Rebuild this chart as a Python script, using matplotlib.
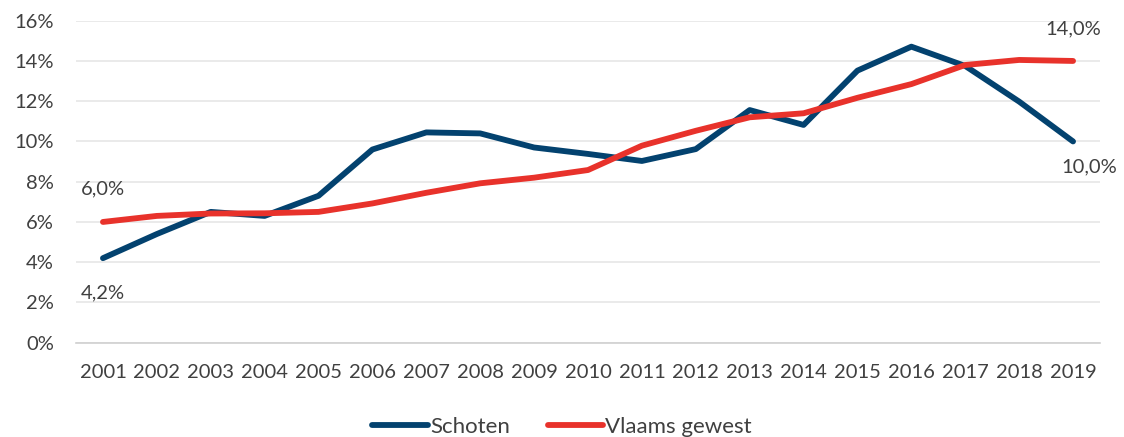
import matplotlib
matplotlib.use("Agg")
import matplotlib.pyplot as plt
from matplotlib.ticker import FuncFormatter

plt.rcParams['font.family'] = ['Lato', 'DejaVu Sans']

years = [str(y) for y in range(2001, 2020)]
schoten = [4.2, 5.4, 6.5, 6.3, 7.3, 9.6, 10.45, 10.4, 9.7, 9.38, 9.03, 9.62,
           11.56, 10.82, 13.52, 14.71, 13.75, 11.98, 10.0]
vlaams = [6.0, 6.3, 6.42, 6.43, 6.5, 6.92, 7.45, 7.92, 8.2, 8.58, 9.79, 10.53,
          11.2, 11.4, 12.17, 12.85, 13.8, 14.05, 14.0]
series_names = ["Schoten", "Vlaams gewest"]
yticks = [0, 2, 4, 6, 8, 10, 12, 14, 16]

BLUE = "#03426f"
RED = "#e8322b"
TXT = "#404040"
FS = 14.5

W, H = 1124, 437
fig = plt.figure(figsize=(W / 100, H / 100), dpi=100)
ax = fig.add_axes([76 / W, 1 - 342.7 / H, (1100 - 76) / W, (342.7 - 20.7) / H])

x = list(range(len(years)))
ax.plot(x, schoten, color=BLUE, lw=4.2, solid_capstyle='round', solid_joinstyle='round', label=series_names[0], zorder=3)
ax.plot(x, vlaams, color=RED, lw=4.2, solid_capstyle='round', solid_joinstyle='round', label=series_names[1], zorder=4)

ax.set_xlim(-0.5, len(years) - 0.5)
ax.set_ylim(0, 16)
ax.set_yticks(yticks)
ax.yaxis.set_major_formatter(FuncFormatter(lambda v, p: f"{int(v)}%"))
ax.set_xticks(x)
ax.set_xticklabels(years)

ax.grid(axis='y', color='#e6e6e6', lw=1.2)
ax.set_axisbelow(True)
for s in ['top', 'right', 'left']:
    ax.spines[s].set_visible(False)
ax.spines['bottom'].set_color('#d0d0d0')
ax.spines['bottom'].set_linewidth(1.2)
ax.tick_params(axis='both', length=0, labelsize=FS, colors=TXT)
ax.tick_params(axis='y', pad=16)
ax.tick_params(axis='x', pad=15)

def lab(v):
    return f"{v:.1f}%".replace('.', ',')

ax.annotate(lab(vlaams[0]), (x[0], vlaams[0]), xytext=(0, 33), textcoords='offset pixels',
            ha='center', va='center', fontsize=FS, color=TXT)
ax.annotate(lab(schoten[0]), (x[0], schoten[0]), xytext=(0, -35), textcoords='offset pixels',
            ha='center', va='center', fontsize=FS, color=TXT)
ax.annotate(lab(vlaams[-1]), (x[-1], vlaams[-1]), xytext=(0, 32), textcoords='offset pixels',
            ha='center', va='center', fontsize=FS, color=TXT)
ax.annotate(lab(schoten[-1]), (x[-1], schoten[-1]), xytext=(16, -25), textcoords='offset pixels',
            ha='center', va='center', fontsize=FS, color=TXT, annotation_clip=False)

leg = fig.legend(loc='center', bbox_to_anchor=(562 / W, 1 - 427 / H), ncol=2, frameon=False,
                 fontsize=16, handlelength=2.5, handletextpad=0.1, columnspacing=1.7,
                 labelcolor=TXT)

fig.savefig("out.png", dpi=100)
